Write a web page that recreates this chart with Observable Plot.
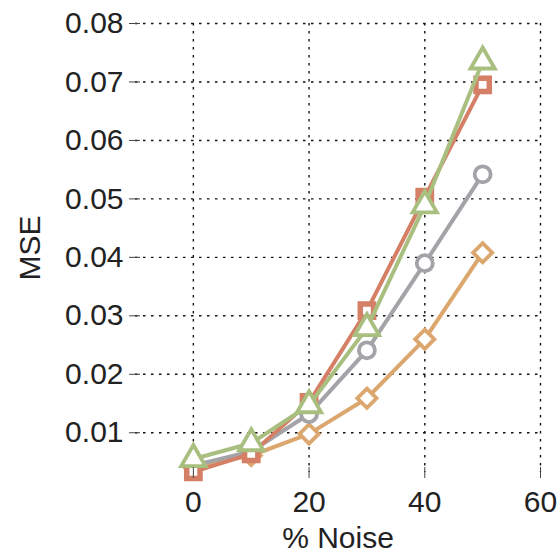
<!DOCTYPE html>
<html><head><meta charset="utf-8">
<script src="https://cdn.jsdelivr.net/npm/d3@7"></script>
<script src="https://cdn.jsdelivr.net/npm/@observablehq/plot@0.6"></script>
<style>
html,body{margin:0;padding:0;background:#fff;}
#chart svg{display:block;}
</style>
</head><body><div id="chart"></div>
<script>
const noise = [0, 10, 20, 30, 40, 50];
const seriesNames = ["diamond", "circle", "square", "triangle"];
const seriesColors = ["#dba76e", "#a3a3a8", "#d47f66", "#a9bf80"];
const mseDiamond = [0.0042, 0.0061, 0.0098, 0.0159, 0.0260, 0.0408];
const mseCircle = [0.0044, 0.0068, 0.0132, 0.0241, 0.0390, 0.0542];
const mseSquare = [0.0033, 0.0064, 0.0152, 0.0309, 0.0503, 0.0695];
const mseTriangle = [0.0055, 0.0082, 0.0147, 0.0279, 0.0489, 0.0735];
const xTicks = [0, 20, 40, 60];
const yTicks = [0.01, 0.02, 0.03, 0.04, 0.05, 0.06, 0.07, 0.08];

const squareDiamond = {
  draw(context, size) {
    const r = Math.sqrt(size / Math.PI) * 1.2;
    context.moveTo(0, -r);
    context.lineTo(r, 0);
    context.lineTo(0, r);
    context.lineTo(-r, 0);
    context.closePath();
  }
};
const symbolFor = {diamond: squareDiamond, circle: "circle", square: "square", triangle: "triangle"};

const values = [mseDiamond, mseCircle, mseSquare, mseTriangle];
const rows = [];
seriesNames.forEach((s, i) => noise.forEach((x, j) => rows.push({series: s, noise: x, mse: values[i][j]})));

const font = "'Liberation Sans', Arial, Helvetica, sans-serif";
const marks = [
  Plot.gridX(xTicks, {stroke: "#111", strokeOpacity: 1, strokeWidth: 1.4, strokeDasharray: "2.5,5.5"}),
  Plot.gridY(yTicks, {stroke: "#111", strokeOpacity: 1, strokeWidth: 1.4, strokeDasharray: "2.5,5.5"}),
];
const radius = {diamond: 8, circle: 8, square: 7.5, triangle: 9};
const sw = {diamond: 3.8, circle: 3.8, square: 5.5, triangle: 3.8};
seriesNames.forEach((s) => {
  const data = rows.filter(d => d.series === s);
  marks.push(Plot.line(data, {x: "noise", y: "mse", stroke: "series", strokeWidth: 4}));
  marks.push(Plot.dot(data, {x: "noise", y: "mse", stroke: "series", symbol: symbolFor[s], fill: "white", r: radius[s], strokeWidth: sw[s]}));
});
marks.push(
  Plot.axisX({ticks: xTicks, tickSize: 6, tickPadding: 12, stroke: "#444", fill: "#222", label: "% Noise", labelAnchor: "center", labelArrow: "none", labelOffset: 75, line: true, fontSize: 30}),
  Plot.axisX({ticks: xTicks, tickSize: -5, text: null, stroke: "#444", label: null}),
  Plot.axisY({ticks: yTicks, tickSize: 6, tickPadding: 6, tickFormat: d3.format(".2f"), stroke: "#444", fill: "#222", label: "MSE", labelAnchor: "center", labelArrow: "none", labelOffset: 117, line: true, fontSize: 30}),
  Plot.axisY({ticks: yTicks, tickSize: -5, text: null, stroke: "#444", label: null})
);

const chart = Plot.plot({
  width: 558,
  height: 554,
  marginLeft: 135,
  marginRight: 18,
  marginTop: 23,
  marginBottom: 82,
  style: {fontFamily: font, fontSize: "30px", color: "#222", background: "white"},
  x: {domain: [-10, 60]},
  y: {domain: [0.0032, 0.08]},
  color: {domain: seriesNames, range: seriesColors},
  marks
});
document.getElementById("chart").appendChild(chart);
</script>
</body></html>
